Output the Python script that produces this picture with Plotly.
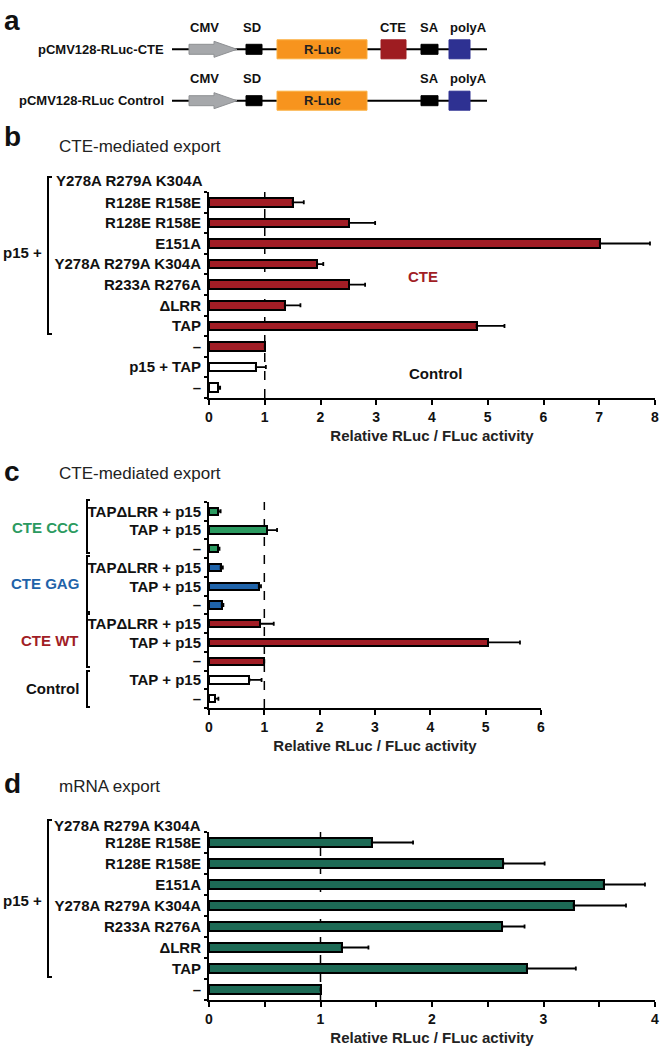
import plotly.graph_objects as go

# ---------------- data ----------------
b_labels = ["R128E R158E", "R128E R158E", "E151A", "Y278A R279A K304A", "R233A R276A",
            "ΔLRR", "TAP", "–", "p15 + TAP", "–"]
b_values = [1.50, 2.51, 7.01, 1.94, 2.51, 1.36, 4.80, 1.00, 0.84, 0.17]
b_errors = [0.20, 0.47, 0.90, 0.11, 0.29, 0.28, 0.50, 0.00, 0.18, 0.03]
b_groups = ["CTE"] * 8 + ["Control"] * 2

c_labels = ["TAPΔLRR + p15", "TAP + p15", "–",
            "TAPΔLRR + p15", "TAP + p15", "–",
            "TAPΔLRR + p15", "TAP + p15", "–",
            "TAP + p15", "–"]
c_values = [0.17, 1.05, 0.17, 0.21, 0.90, 0.23, 0.92, 5.04, 1.00, 0.73, 0.11]
c_errors = [0.04, 0.18, 0.02, 0.04, 0.04, 0.03, 0.25, 0.58, 0.00, 0.22, 0.06]
c_groups = ["CTE CCC"] * 3 + ["CTE GAG"] * 3 + ["CTE WT"] * 3 + ["Control"] * 2

d_labels = ["R128E R158E", "R128E R158E", "E151A", "Y278A R279A K304A", "R233A R276A",
            "ΔLRR", "TAP", "–"]
d_values = [1.46, 2.64, 3.54, 3.27, 2.63, 1.19, 2.85, 1.00]
d_errors = [0.37, 0.37, 0.37, 0.47, 0.20, 0.24, 0.44, 0.00]

group_colors = {"CTE": "#a11d25", "CTE WT": "#a11d25", "Control": "#ffffff",
                "CTE CCC": "#2b9a60", "CTE GAG": "#1f63a9"}
label_colors = {"CTE CCC": "#2b9a60", "CTE GAG": "#1f63a9", "CTE WT": "#a11d25", "Control": "#111111"}
d_color = "#1d6a55"

W, H = 664, 1050
FONT = "Arial, Liberation Sans, sans-serif"


def px(x):
    return x / W


def py(y):
    return 1 - y / H


fig = go.Figure()


def add_panel(labels, values, errors, colors, xa, ya, bw):
    n = len(labels)
    fig.add_trace(go.Bar(
        x=values, y=list(range(n)), orientation="h",
        marker=dict(color=colors, line=dict(color="black", width=2)),
        width=bw,
        error_x=dict(type="data", array=errors, arrayminus=[0] * n, symmetric=False,
                     color="black", thickness=1.8, width=2),
        xaxis=xa, yaxis=ya, showlegend=False, hoverinfo="x+y"))


add_panel(b_labels, b_values, b_errors, [group_colors[g] for g in b_groups], "x", "y", 0.41)
add_panel(c_labels, c_values, c_errors, [group_colors[g] for g in c_groups], "x2", "y2", 0.39)
add_panel(d_labels, d_values, d_errors, [d_color] * len(d_labels), "x3", "y3", 0.41)

tickfont = dict(family=FONT, size=14, color="#111111", weight="bold")
labfont = dict(family=FONT, size=15, color="#111111", weight="bold")
titlefont = dict(family=FONT, size=15, color="#222222", weight="bold")


def xaxis_cfg(domain, rng, anchor, minor=None):
    cfg = dict(domain=domain, range=rng, anchor=anchor, dtick=1, tick0=0,
               showline=True, linewidth=2, linecolor="black", ticks="outside",
               ticklen=5, tickwidth=2, tickcolor="black", tickfont=tickfont,
               showgrid=False, zeroline=False, fixedrange=True, automargin=False,
               title=dict(text="Relative RLuc / FLuc activity", font=titlefont, standoff=7))
    if minor:
        cfg["minor"] = minor
    return cfg


def yaxis_cfg(domain, labels, anchor):
    n = len(labels)
    return dict(domain=domain, range=[n - 0.5, -0.5], anchor=anchor,
                tickmode="array", tickvals=list(range(n)), ticktext=labels,
                ticks="", tickfont=labfont, ticklabelstandoff=3,
                showline=True, linewidth=2, linecolor="black",
                showgrid=False, zeroline=False, fixedrange=True, automargin=False,
                minor=dict(tickmode="array", tickvals=[i - 0.5 for i in range(n + 1)],
                           ticks="outside", ticklen=3, tickwidth=2, tickcolor="black",
                           showgrid=False))


fig.update_layout(
    width=W, height=H, margin=dict(l=0, r=0, t=0, b=0, pad=0),
    paper_bgcolor="white", plot_bgcolor="white",
    font=dict(family=FONT, color="#111111"),
    bargap=0,
    xaxis=xaxis_cfg([px(209), px(655)], [0, 8], "y"),
    yaxis=yaxis_cfg([py(398), py(192)], b_labels, "x"),
    xaxis2=xaxis_cfg([px(209), px(541)], [0, 6], "y2"),
    yaxis2=yaxis_cfg([py(708), py(502)], c_labels, "x2"),
    xaxis3=xaxis_cfg([px(209), px(655)], [0, 4], "y3",
                     minor=dict(dtick=0.5, ticks="outside", ticklen=5, tickwidth=2,
                                tickcolor="black", showgrid=False)),
    yaxis3=yaxis_cfg([py(1000), py(832)], d_labels, "x3"),
)

shapes = []
annots = []

# dashed reference lines at 1
for xr, yr in (("x", "y"), ("x2", "y2"), ("x3", "y3")):
    shapes.append(dict(type="line", xref=xr, yref=yr + " domain", x0=1, x1=1, y0=0, y1=1,
                       line=dict(color="black", width=1.5, dash="dash"), layer="below"))


def bracket(x, y0, y1, serif=4):
    shapes.append(dict(type="path", xref="paper", yref="paper",
                       path=f"M {px(x + serif)},{py(y0)} L {px(x)},{py(y0)} L {px(x)},{py(y1)} L {px(x + serif)},{py(y1)}",
                       line=dict(color="black", width=2)))


def text(x, y, s, size=15, color="#111111", bold=True, xanchor="center", family=FONT):
    annots.append(dict(xref="paper", yref="paper", x=px(x), y=py(y), text=s, showarrow=False,
                       xanchor=xanchor, yanchor="middle",
                       font=dict(family=family, size=size, color=color,
                                 weight="bold" if bold else "normal")))


# ---- panel headers ----
text(2, 20, "a", size=28, xanchor="left")
text(2, 137, "b", size=28, xanchor="left")
text(57, 146, "CTE-mediated export", size=17, bold=False, xanchor="left", color="#222222")
text(2, 471, "c", size=28, xanchor="left")
text(57, 474, "CTE-mediated export", size=17, bold=False, xanchor="left", color="#222222")
text(2, 783, "d", size=28, xanchor="left")
text(57, 786, "mRNA export", size=17, bold=False, xanchor="left", color="#222222")

# ---- panel b extras ----
bracket(48, 177, 334)
text(44, 253, "p15 +", xanchor="right")
text(205, 180, "Y278A R279A K304A", xanchor="right")
text(423, 276, "CTE", color=group_colors["CTE"])
text(436, 373, "Control")

# ---- panel c extras ----
c_brackets = {"CTE CCC": (500, 553, 527), "CTE GAG": (556, 612, 583),
              "CTE WT": (614, 667, 640), "Control": (671, 707, 688)}
for g, (y0, y1, ym) in c_brackets.items():
    bracket(87, y0, y1, serif=3)
    text(81, ym, g, color=label_colors[g], xanchor="right")

# ---- panel d extras ----
bracket(48, 820, 977)
text(44, 900, "p15 +", xanchor="right")
text(203, 825, "Y278A R279A K304A", xanchor="right")


# ---- panel a: construct schematic ----
def rect(x0, y0, x1, y1, fill, line=None):
    shapes.append(dict(type="rect", xref="paper", yref="paper",
                       x0=px(x0), x1=px(x1), y0=py(y1), y1=py(y0),
                       fillcolor=fill, line=dict(color=line or fill, width=1)))


def construct(yc, name, with_cte):
    shapes.append(dict(type="line", xref="paper", yref="paper", x0=px(172), x1=px(487),
                       y0=py(yc), y1=py(yc), line=dict(color="black", width=2)))
    path = (f"M {px(189)},{py(yc - 5)} L {px(214)},{py(yc - 5)} L {px(214)},{py(yc - 8)} "
            f"L {px(237)},{py(yc)} L {px(214)},{py(yc + 8)} L {px(214)},{py(yc + 5)} "
            f"L {px(189)},{py(yc + 5)} Z")
    shapes.append(dict(type="path", xref="paper", yref="paper", path=path,
                       fillcolor="#a6a8ab", line=dict(color="#8e9093", width=1)))
    rect(246, yc - 5, 262, yc + 5, "#000000")
    rect(277, yc - 9.5, 367, yc + 9.5, "#f7941e", "#fbb040")
    text(322, yc, "R-Luc", size=13, color="#231f20")
    if with_cte:
        rect(381, yc - 9.5, 406, yc + 9.5, "#9e1c21")
    rect(421, yc - 5, 438, yc + 5, "#000000")
    rect(449, yc - 9.5, 470, yc + 9.5, "#2e3192")
    text(166, yc, name, size=13, xanchor="right")
    ty = yc - 22
    text(204, ty, "CMV", size=13)
    text(252, ty, "SD", size=13)
    if with_cte:
        text(393, ty, "CTE", size=13)
    text(429, ty, "SA", size=13)
    text(468, ty, "polyA", size=13)


construct(49.3, "pCMV128-RLuc-CTE", True)
construct(100.7, "pCMV128-RLuc Control", False)

fig.update_layout(shapes=shapes, annotations=annots)
fig.write_html(
    "out.html",
    config={"displayModeBar": False},
    post_script="document.body.style.margin='0';document.body.style.padding='0';"
                "document.documentElement.style.overflow='hidden';",
)
